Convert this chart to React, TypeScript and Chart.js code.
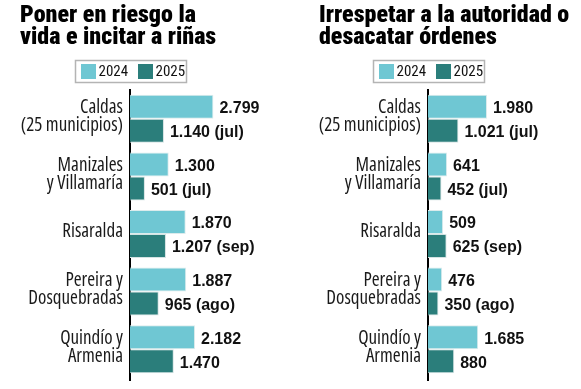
import React, { useEffect, useRef } from 'react';
import { Chart, registerables } from 'chart.js';
Chart.register(...registerables);

const categories: (string | string[])[] = [
  ['Caldas', '(25 municipios)'],
  ['Manizales', 'y Villamaría'],
  'Risaralda',
  ['Pereira y', 'Dosquebradas'],
  ['Quindío y', 'Armenia'],
];
const seriesNames = ['2024', '2025'];
const notes2025 = ['(jul)', '(jul)', '(sep)', '(ago)', ''];
const riesgo2024 = [2799, 1300, 1870, 1887, 2182];
const riesgo2025 = [1140, 501, 1207, 965, 1470];
const irrespeto2024 = [1980, 641, 509, 476, 1685];
const irrespeto2025 = [1021, 452, 625, 350, 880];
const titleRiesgo = ['Poner en riesgo la', 'vida e incitar a riñas'];
const titleIrrespeto = ['Irrespetar a la autoridad o', 'desacatar órdenes'];
const xMax = 5000;

const COLORS = ['#6fc7d3', '#2b7e7b'];
const NARROW = "'Roboto Condensed', 'Roboto', sans-serif";
const OPEN = "'Open Sans', sans-serif";
const SANS = "'Liberation Sans', Arial, sans-serif";

function fmt(v: number): string {
  return String(v).replace(/\B(?=(\d{3})+(?!\d))/g, '.');
}

const valueLabels = {
  id: 'valueLabels',
  afterDatasetsDraw(chart: any) {
    const ctx = chart.ctx;
    ctx.save();
    ctx.font = `bold 16px ${SANS}`;
    ctx.fillStyle = '#111';
    ctx.textAlign = 'left';
    ctx.textBaseline = 'middle';
    chart.data.datasets.forEach((ds: any, di: number) => {
      const meta = chart.getDatasetMeta(di);
      meta.data.forEach((bar: any, i: number) => {
        const v = ds.data[i];
        let t = fmt(v);
        if (di === 1 && notes2025[i]) t += ' ' + notes2025[i];
        ctx.fillText(t, bar.x + 6, bar.y + 2);
      });
    });
    ctx.restore();
  },
};

const axisTail = {
  id: 'axisTail',
  afterDraw(chart: any) {
    const ctx = chart.ctx;
    const a = chart.chartArea;
    ctx.save();
    ctx.strokeStyle = '#000';
    ctx.lineWidth = 2;
    ctx.beginPath();
    ctx.moveTo(a.left, a.bottom - 1);
    ctx.lineTo(a.left, a.bottom + 3);
    ctx.stroke();
    ctx.restore();
  },
};

const boxLegend = {
  id: 'boxLegend',
  afterDraw(chart: any) {
    const ctx = chart.ctx;
    const cx = chart.chartArea.left;
    const boxW = 111;
    const boxH = 22;
    const top = 60;
    const left = Math.round(cx - boxW / 2) + 0.5;
    ctx.save();
    ctx.strokeStyle = '#b4b4b4';
    ctx.lineWidth = 1.5;
    ctx.strokeRect(left, top + 0.5, boxW, boxH);
    ctx.font = `15px ${NARROW}`;
    ctx.textBaseline = 'middle';
    ctx.textAlign = 'left';
    chart.data.datasets.forEach((ds: any, i: number) => {
      const sx = left + 5.5 + i * 57;
      const sy = top + 4;
      ctx.fillStyle = ds.backgroundColor;
      ctx.fillRect(sx, sy, 15, 15);
      ctx.fillStyle = '#111';
      ctx.fillText(ds.label, sx + 17.5, top + 12);
    });
    ctx.restore();
  },
};

function makeTitleShift(titleX: number) {
  return {
    id: 'titleShift',
    afterLayout(chart: any) {
      const t = chart.titleBlock;
      if (t) {
        const w = t.right - t.left;
        t.left = titleX;
        t.right = titleX + w;
      }
    },
  };
}

function Panel(props: { title: string[]; d24: number[]; d25: number[]; x: number; width: number; titleX: number; axisX: number }) {
  const ref = useRef<HTMLCanvasElement | null>(null);
  useEffect(() => {
    const canvas = ref.current;
    if (!canvas) return;
    const padRight = props.width - props.axisX - 149;
    const chart = new Chart(canvas, {
      type: 'bar',
      data: {
        labels: categories as any,
        datasets: [
          {
            label: seriesNames[0],
            data: props.d24,
            backgroundColor: COLORS[0],
            borderColor: '#dcebec',
            borderWidth: 1,
            barPercentage: 1,
            categoryPercentage: 0.833,
          },
          {
            label: seriesNames[1],
            data: props.d25,
            backgroundColor: COLORS[1],
            borderColor: '#d5e3e3',
            borderWidth: 1,
            barPercentage: 1,
            categoryPercentage: 0.833,
          },
        ],
      },
      options: {
        indexAxis: 'y',
        animation: false,
        responsive: false,
        maintainAspectRatio: false,
        devicePixelRatio: 1,
        layout: { padding: { left: 0, right: padRight, top: 0, bottom: 11 } },
        scales: {
          x: { display: false, min: 0, max: xMax },
          y: {
            grid: { display: false, drawTicks: false },
            border: { display: true, color: '#000', width: 2 },
            ticks: {
              color: '#1a1a1a',
              padding: 7,
              labelOffset: -2,
              font: { family: OPEN, weight: 'condensed 400', size: 19, lineHeight: 18 / 19 },
            },
            afterFit: (scale: any) => {
              scale.width = props.axisX;
              scale.paddingTop = 0;
              scale.paddingBottom = 0;
            },
          },
        },
        plugins: {
          legend: { display: false },
          tooltip: { enabled: false },
          title: {
            display: true,
            text: props.title,
            align: 'start',
            color: '#000',
            font: { family: NARROW, weight: '900', size: 24, lineHeight: 22 / 24 },
            padding: { top: 5, bottom: 41 },
          },
        },
      } as any,
      plugins: [valueLabels, boxLegend, axisTail, makeTitleShift(props.titleX)],
    });
    return () => chart.destroy();
  }, []);
  return (
    <div style={{ position: 'absolute', left: props.x, top: 0, width: props.width, height: 389 }}>
      <canvas ref={ref} width={props.width} height={389} />
    </div>
  );
}

export default function App() {
  return (
    <div style={{ position: 'absolute', left: 0, top: 0, width: 581, height: 389, background: '#fff' }}>
      <Panel title={titleRiesgo} d24={riesgo2024} d25={riesgo2025} x={0} width={290} titleX={20} axisX={130} />
      <Panel title={titleIrrespeto} d24={irrespeto2024} d25={irrespeto2025} x={290} width={291} titleX={29} axisX={138} />
    </div>
  );
}
